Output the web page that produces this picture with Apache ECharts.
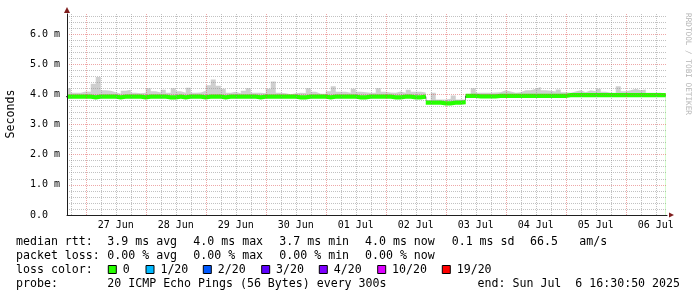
<!DOCTYPE html>
<html><head><meta charset="utf-8">
<script src="https://cdn.jsdelivr.net/npm/echarts@6/dist/echarts.min.js"></script>
<style>html,body{margin:0;padding:0;background:#fff}#c{width:697px;height:297px}</style>
</head><body><div id="c"></div>
<script>
// ---- data ----
const dayLabels = ['27 Jun','28 Jun','29 Jun','30 Jun','01 Jul','02 Jul','03 Jul','04 Jul','05 Jul','06 Jul'];
const yTickValues = [0,1,2,3,4,5,6];
// median rtt (ms), one value per 2-hour block starting Jun 26 16:00
const median = [
 3.92,3.92,3.92,3.92,3.92,3.90,3.92,3.92,3.92,3.92,
 3.90,3.92,3.92,3.92,3.92,3.90,3.92,3.92,3.92,3.92,
 3.90,3.90,3.92,3.90,3.92,3.92,3.92,3.90,3.92,3.92,
 3.92,3.90,3.92,3.92,3.92,3.92,3.92,3.92,3.90,3.92,
 3.92,3.92,3.92,3.92,3.92,3.92,3.90,3.90,3.92,3.92,
 3.92,3.92,3.90,3.92,3.92,3.92,3.92,3.92,3.90,3.90,
 3.92,3.92,3.92,3.92,3.92,3.90,3.90,3.92,3.92,3.90,
 3.90,3.92,3.72,3.72,3.72,3.70,3.70,3.72,3.72,3.74,
 3.95,3.95,3.93,3.93,3.93,3.93,3.95,3.95,3.95,3.95,
 3.95,3.95,3.95,3.95,3.95,3.95,3.95,3.95,3.95,3.95,
 3.97,3.97,3.97,3.97,3.97,3.97,3.97,3.97,3.97,3.97,
 3.97,3.97,3.97,3.97,3.97,3.97,3.97,3.97,3.97,3.97
];
// max ping (top of smoke) per block (ms)
const smokeMax = [
 4.20,4.05,4.05,4.09,4.08,4.35,4.57,4.13,4.12,4.07,
 4.02,4.12,4.15,4.05,4.03,4.05,4.20,4.10,4.06,4.15,
 4.05,4.20,4.10,4.05,4.22,4.05,4.06,4.12,4.30,4.49,
 4.28,4.18,4.05,4.08,4.03,4.12,4.20,4.05,4.05,4.03,
 4.18,4.42,4.05,4.03,4.00,4.03,4.05,4.04,4.20,4.08,
 4.02,4.02,4.10,4.27,4.08,4.08,4.05,4.18,4.08,4.07,
 4.05,4.05,4.20,4.08,4.06,4.05,4.09,4.05,4.15,4.08,
 4.08,4.06,3.80,4.05,3.83,3.83,3.85,3.96,3.83,3.83,
 4.00,4.20,4.05,4.05,4.05,4.06,4.07,4.13,4.09,4.05,
 4.07,4.13,4.13,4.18,4.24,4.13,4.12,4.09,4.16,4.07,
 4.05,4.09,4.13,4.07,4.13,4.10,4.18,4.08,4.05,4.05,
 4.27,4.10,4.13,4.18,4.13,4.16,4.05,4.05,4.05,4.02
];
const lossColors = ['#26ff00','#00b8ff','#0059ff','#5e00ff','#7e00ff','#dd00ff','#ff0000'];
const lossLabels = ['0','1/20','2/20','3/20','4/20','10/20','19/20'];
const rttStats = ['3.9 ms avg','4.0 ms max','3.7 ms min','4.0 ms now','0.1 ms sd','66.5','am/s'];
const lossStats = ['0.00 % avg','0.00 % max','0.00 % min','0.00 % now'];
const probeText = '20 ICMP Echo Pings (56 Bytes) every 300s';
const endText = 'end: Sun Jul  6 16:30:50 2025';

// ---- layout / style ----
const hourStart = -8, hourStep = 2;     // hours relative to 27 Jun 00:00
const xMin = -7.5, xMax = 232.5, yMax = 6.66;
const bandHalf = 0.07;                  // half thickness of the median band
const MONO = '"DejaVu Sans Mono", monospace';
const gridCol = 'rgba(143,143,143,0.55)', mgridCol = 'rgba(222,79,79,0.5)';

function pts(arr){ const o = arr.map((v,k)=>[hourStart+k*hourStep, v]); o.push([hourStart+arr.length*hourStep, arr[arr.length-1]]); return o; }
const bandTop = median.map(v=>v+bandHalf);
const bandBottom = median.map(v=>v-bandHalf);

const labelX = dayLabels.map((d,i)=>i*24+12);
const majorX = dayLabels.map((d,i)=>i*24);
const minorX = []; for (let h=-6; h<xMax; h+=6) if (h%24!==0) minorX.push(h);
const minorY = []; for (let i=1; i*0.2<yMax; i++) if (i%5!==0) minorY.push(+(i*0.2).toFixed(1));

function xAx(extra){ return Object.assign({type:'value', min:xMin, max:xMax, position:'bottom',
  axisLine:{show:false, onZero:false}, axisTick:{show:false}, axisLabel:{show:false}, splitLine:{show:false}}, extra); }
function yAx(extra){ return Object.assign({type:'value', min:0, max:yMax, position:'left',
  axisLine:{show:false, onZero:false}, axisTick:{show:false}, axisLabel:{show:false}, splitLine:{show:false}}, extra); }

const base = {type:'line', step:'end', showSymbol:false, symbol:'none', silent:true, animation:false};

const graphic = [
 {type:'text', x:11, y:114, rotation:Math.PI/2, style:{text:'Seconds', font:'11.6px '+MONO, fill:'#000', align:'center', verticalAlign:'middle', textAlign:'center', textVerticalAlign:'middle'}},
 {type:'text', x:688, y:64, rotation:-Math.PI/2, style:{text:'RRDTOOL / TOBI OETIKER', font:'7.7px '+MONO, fill:'#b4b4b4', align:'center', verticalAlign:'middle', textAlign:'center', textVerticalAlign:'middle'}}
];
function txt(s, x, y, align){ graphic.push({type:'text', x:x, y:y, style:{text:s, font:'11.6px '+MONO, fill:'#000', align:align||'left', verticalAlign:'middle', textAlign:align||'left', textVerticalAlign:'middle'}}); }
const colX = [107.3,193.3,279.3,365,451.7,530,579.3];
const rowY = [242,256,270,284];
txt('median rtt:', 16, rowY[0]);
rttStats.forEach((s,i)=>txt(s, colX[i], rowY[0]));
txt('packet loss:', 16, rowY[1]);
lossStats.forEach((s,i)=>txt(s, colX[i], rowY[1]));
txt('loss color:', 16, rowY[2]);
const boxX = [108.3,146,203.3,261.7,319.3,377.7,442.3];
lossColors.forEach((c,i)=>{
  graphic.push({type:'rect', x:boxX[i], y:rowY[2]-4.5, shape:{x:0,y:0,width:8,height:8}, style:{fill:c, stroke:'#000', lineWidth:1}});
  txt(lossLabels[i], boxX[i]+14.4, rowY[2]);
});
txt('probe:', 16, rowY[3]);
txt(probeText, 107.3, rowY[3]);
txt(endText, 680, rowY[3], 'right');

const chart = echarts.init(document.getElementById('c'), null, {renderer:'canvas'});
chart.setOption({
  backgroundColor:'#fff',
  animation:false,
  grid:{left:67, right:30, top:14, bottom:82},
  xAxis:[
    xAx({}),
    xAx({z:5, axisTick:{show:false, customValues:minorX}, splitLine:{show:true, lineStyle:{color:gridCol, type:[1,1], width:1}}}),
    xAx({z:6, axisTick:{show:false, customValues:majorX}, splitLine:{show:true, lineStyle:{color:mgridCol, type:[1,1], width:1}},
         axisLabel:{show:true, customValues:labelX, margin:5, fontFamily:MONO, fontSize:10, color:'#000',
           formatter:v=>dayLabels[Math.round((v-12)/24)]}}),
    xAx({z:7, axisLine:{show:true, onZero:false, lineStyle:{color:'#1f1f1f', width:1}}}),
    xAx({z:8, axisLine:{show:true, onZero:false, symbol:['none','triangle'], symbolSize:[5,5], symbolOffset:[0,4.5], lineStyle:{color:'#801f1f', width:0}}})
  ],
  yAxis:[
    yAx({}),
    yAx({z:5, axisTick:{show:false, customValues:minorY}, splitLine:{show:true, lineStyle:{color:gridCol, type:[1,1], width:1}}}),
    yAx({z:6, axisTick:{show:false, customValues:yTickValues}, splitLine:{show:true, lineStyle:{color:mgridCol, type:[1,1], width:1}},
         axisLabel:{show:true, customValues:yTickValues, margin:7, fontFamily:MONO, fontSize:10, color:'#000',
           formatter:v=> v===0 ? '0.0  ' : v.toFixed(1)+' m'}}),
    yAx({z:7, axisLine:{show:true, onZero:false, lineStyle:{color:'#1f1f1f', width:1}}}),
    yAx({z:8, axisLine:{show:true, onZero:false, symbol:['none','triangle'], symbolSize:[6,6], symbolOffset:[0,4], lineStyle:{color:'#801f1f', width:0}}})
  ],
  series:[
    Object.assign({}, base, {name:'smoke', z:1, data:pts(smokeMax), lineStyle:{width:0, opacity:0}, areaStyle:{color:'#cfcfcf', opacity:1, origin:'start'}}),
    Object.assign({}, base, {name:'median', z:2, data:pts(median), lineStyle:{color:'#202020', width:1}}),
    Object.assign({}, base, {name:'loss0', z:3, data:pts(bandTop), lineStyle:{width:0, opacity:0}, areaStyle:{color:lossColors[0], opacity:1, origin:'start'}}),
    Object.assign({}, base, {name:'under', z:4, data:pts(bandBottom), lineStyle:{width:0, opacity:0}, areaStyle:{color:'#ffffff', opacity:1, origin:'start'}})
  ],
  graphic: graphic
});
</script></body></html>
